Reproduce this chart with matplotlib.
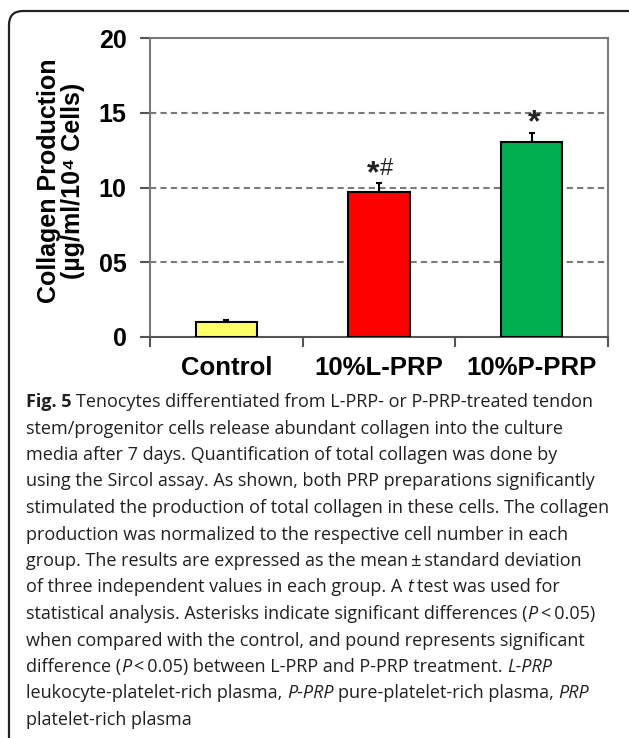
import matplotlib
matplotlib.use("Agg")
import matplotlib.pyplot as plt
from matplotlib.patches import FancyBboxPatch
from matplotlib.transforms import IdentityTransform

# -------------------------
# DATA
# -------------------------
groups = ["Control", "10%L-PRP", "10%P-PRP"]
means = [1.0, 9.7, 13.05]
errors = [0.15, 0.58, 0.6]
bar_colors = ["#FFFF66", "#FF0000", "#00B050"]
stars = ["", "*", "*"]
pounds = ["", "#", ""]
y_ticks = [0, 5, 10, 15, 20]
y_tick_labels = ["0", "05", "10", "15", "20"]

caption_lines = [
    [("Fig. 5", "bold"), (" Tenocytes differentiated from L-PRP- or P-PRP-treated tendon", "normal")],
    [("stem/progenitor cells release abundant collagen into the culture", "normal")],
    [("media after 7 days. Quantification of total collagen was done by", "normal")],
    [("using the Sircol assay. As shown, both PRP preparations significantly", "normal")],
    [("stimulated the production of total collagen in these cells. The collagen", "normal")],
    [("production was normalized to the respective cell number in each", "normal")],
    [("group. The results are expressed as the mean\u2009\u00b1\u2009standard deviation", "normal")],
    [("of three independent values in each group. A ", "normal"), ("t", "italic"), (" test was used for", "normal")],
    [("statistical analysis. Asterisks indicate significant differences (", "normal"), ("P", "italic"),
     ("\u2009<\u20090.05)", "normal")],
    [("when compared with the control, and pound represents significant", "normal")],
    [("difference (", "normal"), ("P", "italic"), ("\u2009<\u20090.05) between L-PRP and P-PRP treatment. ", "normal"),
     ("L-PRP", "italic")],
    [("leukocyte-platelet-rich plasma, ", "normal"), ("P-PRP", "italic"), (" pure-platelet-rich plasma, ", "normal"),
     ("PRP", "italic")],
    [("platelet-rich plasma", "normal")],
]

CHART_FONT = ["Liberation Sans", "DejaVu Sans"]
CAP_FONT = ["Open Sans", "DejaVu Sans"]

W, H = 629, 738
fig = plt.figure(figsize=(W / 100, H / 100), dpi=100)

# outer rounded frame (pixel coords)
frame = FancyBboxPatch((9, -60), 720, H - 11 + 60, boxstyle="round,pad=0,rounding_size=14",
                       transform=IdentityTransform(), facecolor="none", edgecolor="#222222", lw=1.6)
fig.add_artist(frame)

# -------------------------
# BAR CHART
# -------------------------
ax = fig.add_axes([150 / W, 1 - 337 / H, (608 - 150) / W, (337 - 38) / H])
x = list(range(len(groups)))
ax.bar(x, means, width=0.4, color=bar_colors, edgecolor="black", linewidth=1.5, zorder=3)
ax.errorbar(x, means, yerr=[[0] * len(errors), errors], fmt="none", ecolor="black",
            elinewidth=1.5, capsize=2, capthick=1.5, zorder=2)

# significance marks: big bold asterisk, plain pound sign
for xi, m, e, st, pd_ in zip(x, means, errors, stars, pounds):
    top = m + e + 0.6
    dx = -6 if pd_ else 2
    if st:
        ax.annotate(st, (xi, top), xytext=(dx * 0.72, -5.5), textcoords="offset points",
                    ha="center", va="baseline", fontsize=23, fontweight="bold",
                    family=CHART_FONT, color="#222222")
    if pd_:
        ax.annotate(pd_, (xi, top), xytext=(7 * 0.72, -0.5), textcoords="offset points",
                    ha="center", va="baseline", fontsize=17,
                    family=CHART_FONT, color="#222222")

ax.set_xlim(-0.5, 2.5)
ax.set_ylim(0, 20)
ax.set_yticks(y_ticks)
ax.set_yticklabels(y_tick_labels, fontsize=18, fontweight="bold", family=CHART_FONT)
ax.set_xticks([-0.5, 0.5, 1.5, 2.5])
ax.set_xticklabels([])
ax.set_xticks(x, minor=True)
ax.set_xticklabels(groups, minor=True, fontsize=18.5, fontweight="bold", family=CHART_FONT)
ax.tick_params(axis="x", which="minor", length=0, pad=14)
ax.tick_params(axis="x", which="major", length=7, width=1.5, color="#555555", direction="out")
ax.tick_params(axis="y", length=7, width=1.5, color="#555555", direction="out", pad=10)

for sp in ax.spines.values():
    sp.set_color("#7a7a7a")
    sp.set_linewidth(1.5)
ax.spines["bottom"].set_color("#555555")

for gy in [5, 10, 15]:
    ax.axhline(gy, color="#7a7a7a", lw=1.5, ls=(0, (3, 2)), zorder=1)

fig.text(61 / W, 1 - 181 / H, "Collagen Production\n(\u00b5g/ml/10\u2074 Cells)", rotation=90,
         ha="center", va="center", multialignment="center", fontsize=18, fontweight="bold",
         family=CHART_FONT, linespacing=1.05)

# -------------------------
# CAPTION
# -------------------------
renderer = fig.canvas.get_renderer()
styles = {"normal": dict(), "bold": dict(fontweight="bold"), "italic": dict(fontstyle="italic")}


def text_width(s, size, style):
    t = fig.text(0, 0, "|" + s + "|", fontsize=size, family=CAP_FONT, **styles[style])
    bar = fig.text(0, 0, "||", fontsize=size, family=CAP_FONT, **styles[style])
    w = t.get_window_extent(renderer).width - bar.get_window_extent(renderer).width
    t.remove()
    bar.remove()
    return w


def line_width(segs, size):
    return sum(text_width(s, size, st) for s, st in segs)


# fit font size so the widest line ends where it does in the original
base = 11.0
cap_size = base * (614 - 26) / line_width(caption_lines[4], base)

for i, segs in enumerate(caption_lines):
    xpos = 26
    ypos = H - (407 + 26.5 * i)
    for s, st in segs:
        lead = text_width(s[:len(s) - len(s.lstrip())], cap_size, st)
        fig.text((xpos + lead) / W, ypos / H, s.strip(), fontsize=cap_size, family=CAP_FONT,
                 color="#231f20", ha="left", va="baseline", **styles[st])
        xpos += text_width(s, cap_size, st)

fig.savefig("out.png", dpi=100)
